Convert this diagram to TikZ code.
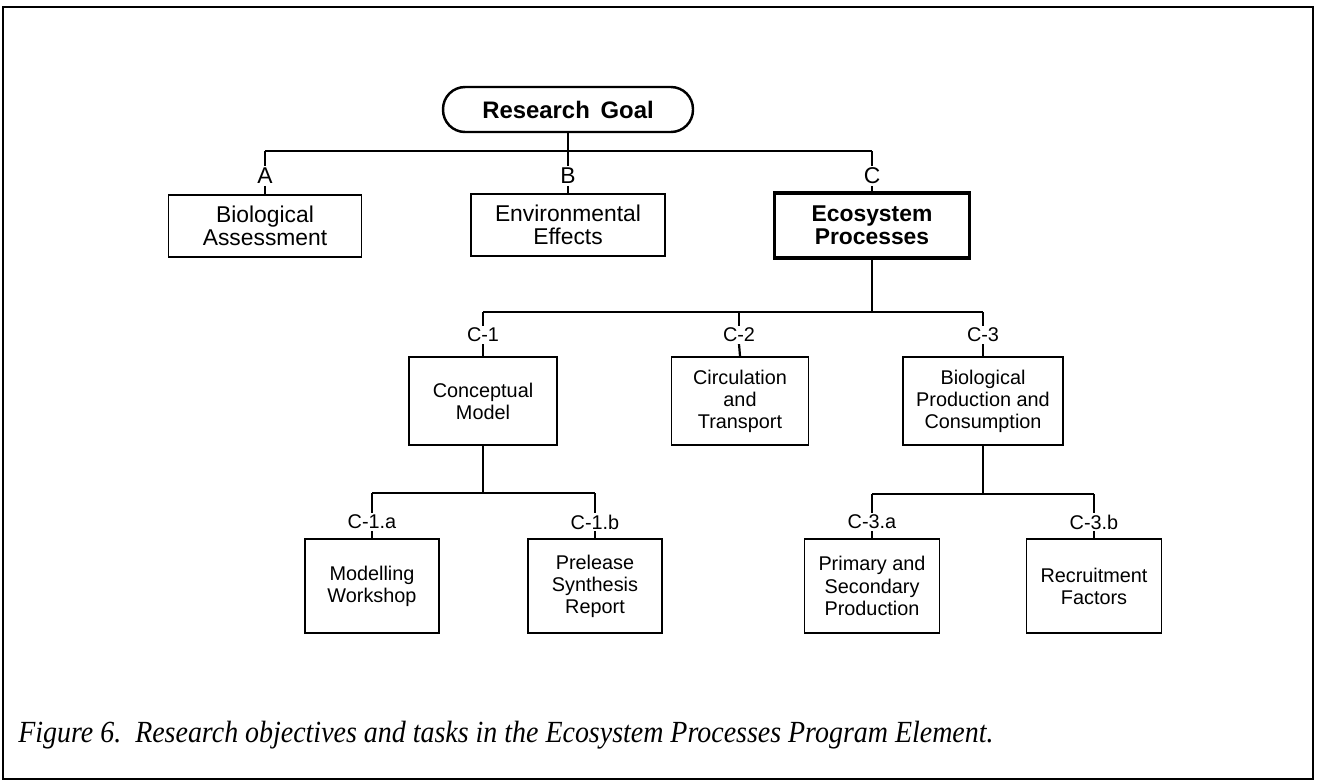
\documentclass[tikz,border=0pt]{standalone}
\usepackage{fontspec}
\setmainfont{Liberation Sans}
\newfontfamily\capserif{Liberation Serif}
\usepackage{graphicx}

% text sizes used in the chart
\newcommand\rowfont{\fontsize{13}{13.2}\selectfont}
\newcommand\goalfont{\fontsize{13.6}{14}\selectfont}
\newcommand\subfont{\fontsize{11.3}{12.6}\selectfont}
\newcommand\capfont{\capserif\itshape\fontsize{17.5}{20}\selectfont}

\begin{document}
\begin{tikzpicture}[x=0.02cm,y=-0.02cm,
  conn/.style={line width=1.25pt},
  topbox/.style={draw, line width=1.1pt, align=center, inner sep=0pt, font=\rowfont,
                 minimum height=1.24cm},
  subbox/.style={draw, line width=1.1pt, align=center, inner sep=0pt, font=\subfont},
  toplab/.style={inner sep=1pt, font=\rowfont},
  sublab/.style={inner sep=1pt, font=\subfont}]

\useasboundingbox (0,0) rectangle (1317,782);

% outer frame
\draw[line width=1.3pt] (3,7) rectangle (1313,779);

% goal
\node[draw, line width=1.4pt, rounded corners=0.44cm, minimum width=5.0cm, minimum height=0.9cm,
      font=\bfseries\goalfont] (goal) at (568,109.5) {Research\hspace{0.45em}Goal};

% first level
\node[toplab] (labA) at (265,176) {A};
\node[toplab] (labB) at (568,176) {B};
\node[toplab] (labC) at (872,176) {C};
\node[topbox, minimum width=3.86cm] (bio) at (265,226) {Biological\\Assessment};
\node[topbox, minimum width=3.88cm] (env) at (568,225) {Environmental\\Effects};
\node[topbox, line width=2pt, minimum width=3.9cm, minimum height=1.3cm, font=\bfseries\rowfont]
      (eco) at (872,225.5) {Ecosystem\\Processes};

\coordinate (busA) at (265,151);
\coordinate (busC) at (872,151);
\draw[conn] (busA) -- (busC);
\draw[conn] (goal.south) -- (goal.south |- busA);
\draw[conn] (busA) -- (labA.north);
\draw[conn] (goal.south |- busA) -- (labB.north);
\draw[conn] (busC) -- (labC.north);
\draw[conn] (labA.south) -- (bio.north);
\draw[conn] (labB.south) -- (env.north);
\draw[conn] (labC.south) -- (eco.north);

% second level
\node[sublab] (lab1) at (483,335) {C-1};
\node[sublab] (lab2) at (739,335) {C-2};
\node[sublab] (lab3) at (983,335) {C-3};
\node[subbox, minimum width=2.96cm, minimum height=1.76cm] (concept) at (483,401) {Conceptual\\Model};
\node[subbox, minimum width=2.74cm, minimum height=1.76cm] (circ) at (740,401) {Circulation\\and\\Transport};
\node[subbox, minimum width=3.2cm, minimum height=1.76cm] (biop) at (983,401) {Biological\\Production and\\Consumption};

\coordinate (bus1) at (483,312);
\coordinate (bus3) at (983,312);
\draw[conn] (bus1) -- (bus3);
\draw[conn] (eco.south) -- (eco.south |- bus1);
\draw[conn] (bus1) -- (lab1.north);
\draw[conn] (lab2.north |- bus1) -- (lab2.north);
\draw[conn] (bus3) -- (lab3.north);
\draw[conn] (lab1.south) -- (concept.north);
\draw[conn] (lab2.south) -- (circ.north);
\draw[conn] (lab3.south) -- (biop.north);

% third level, under C-1
\node[sublab] (lab1a) at (372,522) {C-1.a};
\node[sublab] (lab1b) at (595,522) {C-1.b};
\node[subbox, minimum width=2.68cm, minimum height=1.88cm] (model) at (372,586) {Modelling\\Workshop};
\node[subbox, minimum width=2.68cm, minimum height=1.88cm] (prel) at (595,586) {Prelease\\Synthesis\\Report};

\coordinate (bus1a) at (372,493);
\coordinate (bus1b) at (595,493);
\draw[conn] (bus1a) -- (bus1b);
\draw[conn] (concept.south) -- (concept.south |- bus1a);
\draw[conn] (bus1a) -- (lab1a.north);
\draw[conn] (bus1b) -- (lab1b.north);
\draw[conn] (lab1a.south) -- (model.north);
\draw[conn] (lab1b.south) -- (prel.north);

% third level, under C-3
\node[sublab] (lab3a) at (872,522) {C-3.a};
\node[sublab] (lab3b) at (1094,522) {C-3.b};
\node[subbox, minimum width=2.7cm, minimum height=1.88cm] (prim) at (872,586) {Primary and\\Secondary\\Production};
\node[subbox, minimum width=2.7cm, minimum height=1.88cm] (recr) at (1094,586) {Recruitment\\Factors};

\coordinate (bus3a) at (872,494);
\coordinate (bus3b) at (1094,494);
\draw[conn] (bus3a) -- (bus3b);
\draw[conn] (biop.south) -- (biop.south |- bus3a);
\draw[conn] (bus3a) -- (lab3a.north);
\draw[conn] (bus3b) -- (lab3b.north);
\draw[conn] (lab3a.south) -- (prim.north);
\draw[conn] (lab3b.south) -- (recr.north);

% caption
\node[anchor=base west, inner sep=0pt, font=\capfont] (cap) at (18,742)
  {\resizebox{555pt}{\height}{Figure 6.\ \ Research objectives and tasks in the Ecosystem Processes Program Element.}};
\end{tikzpicture}
\end{document}
